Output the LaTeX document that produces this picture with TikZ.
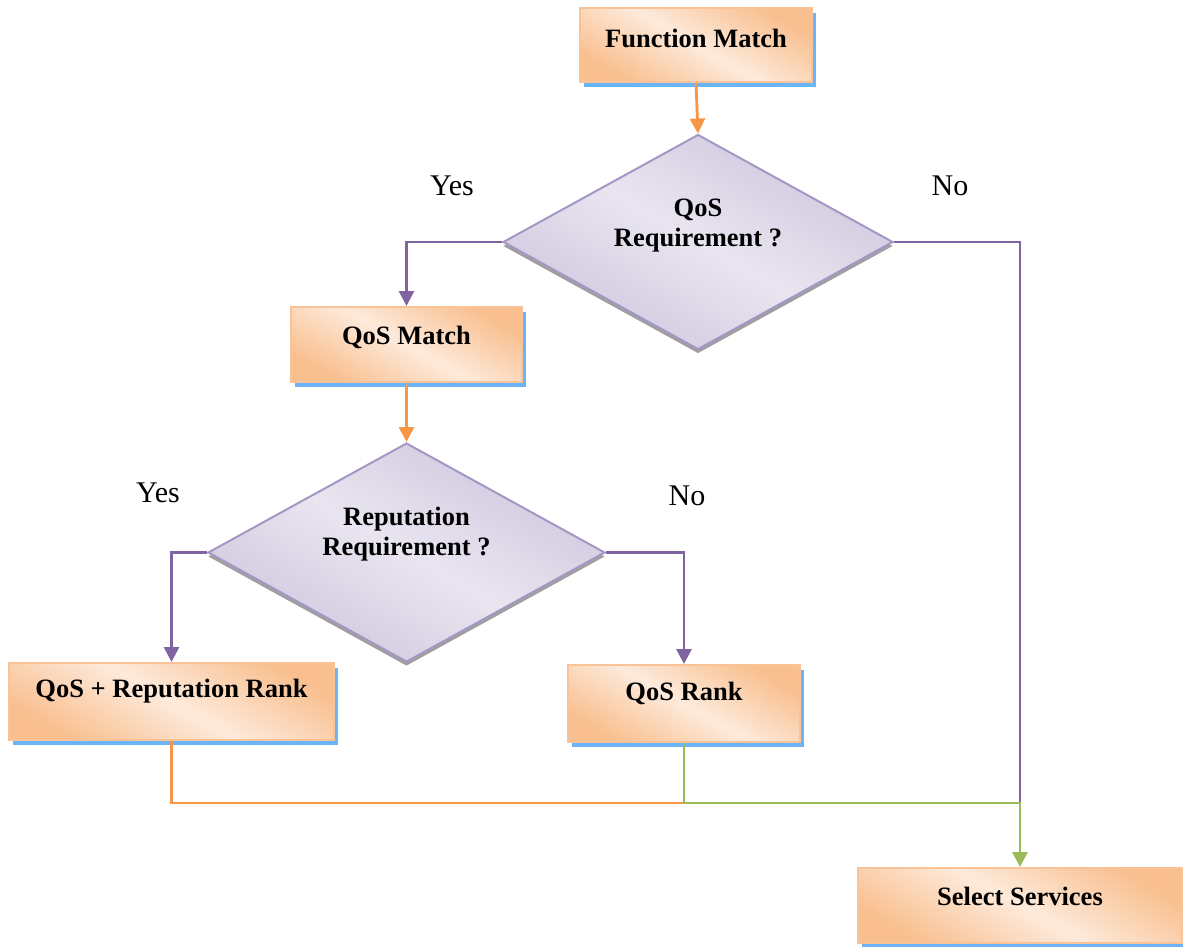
\documentclass[tikz,border=0pt]{standalone}
\usepackage{fontspec}
\setmainfont{Liberation Serif}
\usetikzlibrary{shapes.geometric,arrows.meta}
\definecolor{boxdark}{HTML}{F9BF8F}
\definecolor{boxlight}{HTML}{FDEADB}
\definecolor{boxborder}{HTML}{FAC397}
\definecolor{shadowblue}{HTML}{6AB4F8}
\definecolor{diadark}{HTML}{CFC5DD}
\definecolor{dialight}{HTML}{E9E5F0}
\definecolor{diaborder}{HTML}{A497C4}
\definecolor{corange}{HTML}{F79646}
\definecolor{cpurple}{HTML}{8064A2}
\definecolor{cgreen}{HTML}{9BBB59}
\tikzset{
  procbox/.style={rectangle, draw=boxborder, line width=2pt,
    preaction={fill=shadowblue, transform canvas={xshift=4pt, yshift=-5pt}},
    shading=axis, top color=boxdark, bottom color=boxdark, middle color=boxlight, shading angle=150,
    font=\fontsize{26.5}{30}\selectfont\bfseries, inner sep=0pt},
  decbox/.style={diamond, draw=diaborder, line width=2pt,
    preaction={fill=gray!75, transform canvas={yshift=-4pt}},
    shading=axis, top color=diadark, bottom color=diadark, middle color=dialight, shading angle=150,
    minimum width=390pt, minimum height=215pt, inner sep=0pt, aspect=1.8},
  boxtext/.style={font=\fontsize{26.5}{30}\selectfont\bfseries, inner sep=0pt},
  dectext/.style={boxtext, align=center},
  lbl/.style={font=\fontsize{30}{34}\selectfont, inner sep=0pt},
  conn/.style={line width=2.8pt},
  tip/.style={-{Triangle[width=15pt,length=15pt]}}
}
\begin{document}
\begin{tikzpicture}[x=1pt,y=-1pt]
\useasboundingbox[fill=white] (0,0) rectangle (1183,946);
% nodes
\node[procbox, minimum width=232pt, minimum height=74pt] (fm) at (696,45) {};
\node[boxtext] (fmt) at (696,38) {Function Match};
\node[decbox] (d1) at (698,242) {};
\node[dectext] (d1t) at (698,226) {QoS\\Requirement ?};
\node[procbox, minimum width=231pt, minimum height=75pt] (qm) at (406.5,344.5) {};
\node[boxtext] (qmt) at (406.5,337) {QoS Match};
\node[decbox, minimum width=397pt, minimum height=219pt] (d2) at (406.5,552.5) {};
\node[dectext] (d2t) at (406.5,534) {Reputation\\Requirement ?};
\node[procbox, minimum width=325pt, minimum height=77pt] (qrr) at (171.5,701.5) {};
\node[boxtext] (qrrt) at (171.5,691) {QoS + Reputation Rank};
\node[procbox, minimum width=232pt, minimum height=77pt] (qr) at (684,703.5) {};
\node[boxtext] (qrt) at (684,693) {QoS Rank};
\node[procbox, minimum width=324pt, minimum height=75pt] (ss) at (1020,905.5) {};
\node[boxtext] (sst) at (1020,896) {Select Services};
% labels
\node[lbl] (y1) at (452,186) {Yes};
\node[lbl] (n1) at (950,186) {No};
\node[lbl] (y2) at (158,493) {Yes};
\node[lbl] (n2) at (687,496) {No};
% connectors
\coordinate (j) at (1020,803);
\draw[conn, corange, tip] (fm.south) -- (d1.north);
\draw[conn, cpurple, tip] (d1.west) -| (qm.north);
\draw[conn, cpurple] (d1.east) -| (j);
\draw[conn, corange, tip] (qm.south) -- (d2.north);
\draw[conn, cpurple, tip] (d2.west) -| (qrr.north);
\draw[conn, cpurple, tip] (d2.east) -| (qr.north);
\draw[conn, corange] (qrr.south) |- (j);
\draw[conn, cgreen, tip] (qr.south) |- (j) -- (ss.north);
\end{tikzpicture}
\end{document}
